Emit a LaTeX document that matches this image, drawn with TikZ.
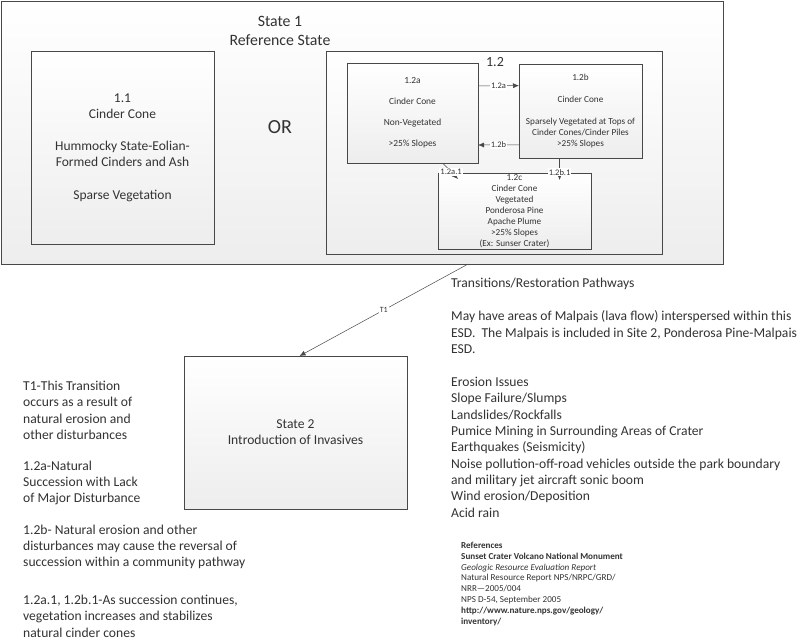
\documentclass[tikz,border=0pt]{standalone}
\usepackage{fontspec}
\setmainfont{Carlito}
\usepackage{xcolor}
\usepackage{tikz}
\usetikzlibrary{shapes,positioning}
\usetikzlibrary{calc}
\usetikzlibrary{arrows.meta,shadows}
\definecolor{bord}{HTML}{484848}
\definecolor{texte}{HTML}{333333}
\tikzset{
	boite/.style={draw=bord,line width=0.6pt,rectangle,inner sep=0pt,outer sep=0pt,align=center,text=texte,
		top color=white,bottom color=black!7,
		drop shadow={shadow xshift=1.3pt,shadow yshift=-1.3pt,opacity=0.3}},
	fleche/.style={draw=bord,line width=0.5pt,-{Latex[length=6pt,width=5pt]}},
	etiq/.style={fill=white,inner sep=1pt,text=texte,font=\fontsize{8.5}{9}\selectfont},
	bloc/.style={anchor=base west,align=left,inner sep=0pt,text=texte}
}

\begin{document}
\begin{tikzpicture}[x=1pt,y=-1pt]
\useasboundingbox[fill=white] (0,0) rectangle (800,641);

%Etat 1
\node[boite,minimum width=722,minimum height=263] (s1) at (362,132.5) {};
\node[text=texte,align=center,font=\fontsize{15.8}{18.5}\selectfont] (t1) at (280,31) {State 1\\Reference State};
\node[text=texte,font=\fontsize{20}{22}\selectfont] (or) at (280,127) {OR};

%Boites de l'etat 1
\node[boite,minimum width=183,minimum height=193,font=\fontsize{13.5}{16.2}\selectfont] (b11) at (122.5,147.5)
	{1.1\\Cinder Cone\\[16pt]Hummocky State-Eolian-\\Formed Cinders and Ash\\[16pt]Sparse Vegetation};
\node[boite,minimum width=336,minimum height=203] (b12) at (494,152.5) {};
\node[text=texte,font=\fontsize{14}{16}\selectfont] (t12) at (495,62) {1.2};

\node[boite,minimum width=131,minimum height=100,font=\fontsize{9.4}{11}\selectfont] (b12a) at (412.5,113)
	{1.2a\\[10pt]Cinder Cone\\[10pt]Non-Vegetated\\[10pt]>25\% Slopes};
\node[boite,minimum width=123,minimum height=94,font=\fontsize{9.2}{10.8}\selectfont] (b12b) at (580.5,111)
	{1.2b\\[11pt]Cinder Cone\\[11pt]Sparsely Vegetated at Tops of\\Cinder Cones/Cinder Piles\\>25\% Slopes};
\node[boite,minimum width=153,minimum height=76,font=\fontsize{9.2}{11}\selectfont] (b12c) at (514.5,211)
	{1.2c\\Cinder Cone\\Vegetated\\Ponderosa Pine\\Apache Plume\\>25\% Slopes\\(Ex: Sunser Crater)};

%Chemins entre communautes
\draw[fleche] ($(b12a.north east)!0.23!(b12a.south east)$) -- node[etiq] {1.2a} ($(b12b.north west)!0.23!(b12b.south west)$);
\draw[fleche] ($(b12b.north west)!0.86!(b12b.south west)$) -- node[etiq] {1.2b} ($(b12a.north east)!0.82!(b12a.south east)$);
\coordinate (fin2a) at ([shift={(20,6)}]b12c.north west);
\draw[fleche] ($(b12a.south west)!0.73!(b12a.south east)$) -- node[etiq,pos=0.55] {1.2a.1} (fin2a);
\coordinate (fin2b) at ($(b12b.south west)!0.33!(b12b.south east)+(0,22)$);
\draw[fleche] ($(b12b.south west)!0.33!(b12b.south east)$) -- node[etiq,pos=0.65] {1.2b.1} (fin2b);

%Etat 2
\node[boite,minimum width=223,minimum height=153,font=\fontsize{13.6}{16}\selectfont] (s2) at (295.5,432.5)
	{State 2\\Introduction of Invasives};
\coordinate (dep) at ($(s1.south west)!0.647!(s1.south east)$);
\draw[fleche] (dep) -- node[etiq,font=\fontsize{8}{9}\selectfont] {T1} ([xshift=4]s2.north);

%Textes
\node[bloc,font=\fontsize{13.6}{16.2}\selectfont] (notes) at (23,637)
	{T1-This Transition\\occurs as a result of\\natural erosion and\\other disturbances\\[15pt]
	1.2a-Natural\\Succession with Lack\\of Major Disturbance\\[15pt]
	1.2b- Natural erosion and other\\disturbances may cause the reversal of\\succession within a community pathway\\[22pt]
	1.2a.1, 1.2b.1-As succession continues,\\vegetation increases and stabilizes\\natural cinder cones};

\node[bloc,font=\fontsize{13.6}{16.3}\selectfont] (trans) at (451,517)
	{Transitions/Restoration Pathways\\[17pt]
	May have areas of Malpais (lava flow) interspersed within this\\ESD.\ \ The Malpais is included in Site 2, Ponderosa Pine-Malpais\\ESD.\\[17pt]
	Erosion Issues\\Slope Failure/Slumps\\Landslides/Rockfalls\\Pumice Mining in Surrounding Areas of Crater\\Earthquakes (Seismicity)\\
	Noise pollution-off-road vehicles outside the park boundary\\and military jet aircraft sonic boom\\Wind erosion/Deposition\\Acid rain};

\node[bloc,font=\fontsize{9.1}{10.8}\selectfont] (refs) at (461,624)
	{\textbf{References}\\\textbf{Sunset Crater Volcano National Monument}\\\textit{Geologic Resource Evaluation Report}\\
	Natural Resource Report NPS/NRPC/GRD/\\NRR---2005/004\\NPS D-54, September 2005\\
	\textbf{http://www.nature.nps.gov/geology/}\\\textbf{inventory/}};

\end{tikzpicture}
\end{document}
